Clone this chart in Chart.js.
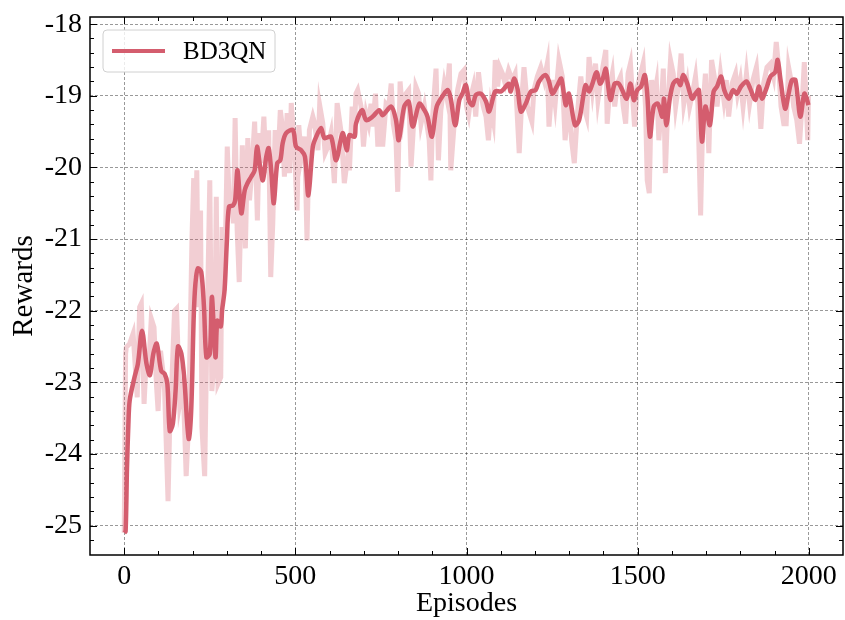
<!DOCTYPE html>
<html>
<head>
<meta charset="utf-8">
<script src="https://cdn.jsdelivr.net/npm/chart.js@4.4.1/dist/chart.umd.min.js"></script>
<style>
  html, body { margin: 0; padding: 0; background: #fff; }
  #box { width: 845px; height: 620px; }
</style>
</head>
<body>
<div id="box"><canvas id="rewardChart" width="845" height="620"></canvas></div>
<script>
// raw episode rewards (light line)
const rawEpisodes = [0, 4, 6, 16, 26, 38, 45, 50, 58, 65, 70, 79, 87, 94, 99, 106, 113, 118, 128, 133, 140, 147, 153, 162, 172, 181, 188, 198, 203, 206, 212, 217, 223, 227, 235, 240, 250, 256, 264, 269, 274, 282, 286, 293, 301, 308, 313, 319, 324, 330, 336, 345, 354, 361, 366, 373, 381, 389, 395, 400, 408, 415, 422, 428, 434, 441, 449, 456, 462, 468, 476, 483, 488, 497, 505, 510, 517, 527, 534, 541, 551, 556, 566, 571, 580, 587, 595, 604, 614, 622, 634, 643, 653,
  658, 666, 673, 677, 682, 692, 699, 707, 714, 721, 726, 734, 741, 747, 755, 765, 773, 780, 786, 794, 799, 806, 814, 823, 831, 838, 845, 852, 860, 867, 877, 884, 891, 896, 901, 911, 918, 925, 935, 942, 950, 954, 964, 974, 984, 993, 1000, 1006, 1013, 1020, 1027, 1035, 1042, 1049, 1057, 1064, 1071, 1078, 1084, 1091, 1097, 1105, 1113, 1123, 1134, 1142, 1154, 1162, 1168, 1178, 1191, 1197, 1207, 1217, 1227, 1236, 1241, 1251, 1259, 1270, 1280, 1288, 1300, 1307, 1315, 1324, 1334, 1343,
  1351, 1358, 1368, 1377, 1384, 1392, 1400, 1407, 1411, 1419, 1426, 1433, 1441, 1450, 1458, 1465, 1472, 1479, 1484, 1491, 1499, 1507, 1516, 1523, 1528, 1534, 1541, 1547, 1555, 1562, 1569, 1575, 1581, 1588, 1596, 1604, 1611, 1620, 1627, 1635, 1645, 1652, 1662, 1669, 1676, 1684, 1691, 1698, 1708, 1716, 1724, 1732, 1742, 1752, 1759, 1766, 1776, 1786, 1792, 1800, 1808, 1818, 1827, 1837, 1847, 1854, 1860, 1868, 1878, 1888, 1897, 1905, 1912, 1919, 1927, 1934, 1941, 1948, 1956, 1965, 1973, 1980, 1987, 1993, 1997, 1999];
const rawRewards = [-25.1, -22.6, -22.51, -22.46, -22.32, -23.21, -21.95, -21.9, -23.3, -22.6, -22.93, -22.11, -22.23, -23.02, -23.4, -22.56, -22.84, -23.12, -24.66, -23.58, -22.88, -22.0, -21.97, -23.3, -23.02, -24.31, -23.58, -20.97, -20.15, -21.53, -20.04, -21.95, -20.6, -23.63, -24.31, -22.79, -20.18, -23.12, -22.65, -20.41, -23.02, -22.93, -20.83, -21.72, -19.71, -20.64, -20.41, -20.78, -19.31, -20.88, -21.6, -19.69, -21.13, -19.59, -20.46, -20.04, -19.36, -20.74, -19.52, -19.94, -19.29, -20.08, -19.48, -21.53, -20.78, -19.48, -19.94, -19.2, -19.43, -20.13, -19.24, -20.08, -19.1, -19.71, -20.6, -19.41, -19.85, -19.57, -21.02, -19.48, -19.29, -19.38, -19.76, -19.13, -19.38, -19.8, -19.71, -19.52, -20.22, -19.1, -19.52, -20.22, -19.85,
  -20.04, -19.15, -19.39, -18.97, -18.92, -19.15, -19.71, -19.25, -19.39, -19.11, -19.43, -18.97, -19.71, -19.2, -19.71, -19.11, -19.15, -18.83, -19.39, -19.62, -20.34, -18.8, -19.29, -18.97, -18.92, -19.99, -19.43, -18.87, -18.97, -19.39, -19.15, -19.39, -19.62, -20.18, -19.29, -18.62, -19.9, -19.2, -18.83, -19.01, -18.55, -20.04, -19.39, -18.92, -18.69, -18.64, -19.15, -19.27, -19.01, -18.87, -19.29, -18.67, -18.97, -19.15, -19.29, -19.62, -19.15, -19.34, -18.5, -18.87, -18.6, -18.69, -18.83, -18.64, -18.78, -18.69, -19.8, -19.01, -18.6, -19.15, -19.36, -18.92, -18.73, -18.6, -18.78, -18.55, -19.43, -18.78, -19.11, -18.5, -18.73, -19.62, -19.06, -19.62, -19.94, -19.25, -18.73, -19.15,
  -19.29, -18.46, -18.92, -18.55, -19.06, -18.78, -18.55, -18.36, -19.39, -18.87, -18.69, -19.15, -18.83, -18.73, -19.15, -19.39, -18.69, -18.55, -18.92, -19.43, -18.87, -18.73, -18.55, -19.15, -20.18, -20.36, -18.78, -19.06, -18.83, -19.62, -19.15, -18.62, -20.08, -19.15, -18.5, -18.69, -19.15, -18.83, -18.41, -19.11, -18.83, -19.15, -18.92, -18.73, -19.11, -20.67, -19.15, -18.69, -19.8, -18.5, -18.73, -19.15, -18.69, -19.06, -18.78, -19.29, -18.83, -18.69, -18.97, -18.78, -19.15, -18.69, -19.11, -18.78, -18.6, -19.01, -19.46, -18.83, -18.6, -18.55, -18.73, -18.25, -18.6, -19.15, -19.39, -19.39, -18.6, -18.78, -19.15, -19.34, -19.67, -19.15, -18.53, -19.15, -19.62, -19.0];

// smoothed rewards (dark line)
const smoothEpisodes = [0, 4, 8, 12, 16, 30, 40, 52, 65, 75, 85, 95, 108, 118, 126, 133, 142, 150, 157, 167, 176, 184, 189, 196, 203, 208, 215, 225, 233, 240, 250, 256, 262, 267, 272, 282, 286, 293, 300, 306, 318, 324, 331, 342, 352, 360, 371, 381, 388, 397, 405, 415, 422, 430, 437, 447, 456, 463, 473, 493, 502, 517, 528, 538, 551, 561, 575, 585, 604, 619, 638, 650, 658,
  673, 677, 695, 707, 726, 745, 755, 780, 794, 802, 818, 831, 843, 862, 877, 886, 899, 913, 932, 945, 954, 967, 979, 988, 998, 1008, 1018, 1027, 1042, 1057, 1066, 1084, 1100, 1110, 1123, 1129, 1139, 1149, 1159, 1173, 1188, 1202, 1212, 1231, 1241, 1251, 1266, 1277, 1290, 1299, 1317, 1329, 1343,
  1348, 1358, 1368, 1380, 1390, 1397, 1407, 1413, 1421, 1433, 1445, 1455, 1468, 1479, 1489, 1499, 1510, 1521, 1528, 1536, 1547, 1559, 1572, 1577, 1584, 1594, 1604, 1616, 1625, 1633, 1645, 1659, 1669, 1679, 1688, 1698, 1711, 1722, 1732, 1744, 1753, 1766, 1779, 1790, 1802, 1818, 1829, 1844, 1854, 1863, 1876, 1888, 1902, 1909, 1917, 1931, 1941, 1951, 1961, 1975, 1987, 1995, 1999];
const smoothRewards = [-25.1, -25.08, -24.2, -23.6, -23.25, -22.93, -22.74, -22.28, -22.74, -22.9, -22.6, -22.46, -22.84, -22.88, -23.02, -23.68, -23.58, -23.12, -22.5, -22.6, -22.98, -23.58, -23.79, -23.35, -22.09, -21.62, -21.41, -21.46, -21.95, -22.65, -22.6, -21.81, -22.28, -22.65, -22.14, -22.22, -21.99, -21.72, -21.02, -20.55, -20.53, -20.46, -20.04, -20.64, -20.32, -20.22, -20.13, -20.04, -19.71, -19.99, -20.18, -19.85, -19.73, -20.08, -20.5, -19.94, -19.9, -19.66, -19.52, -19.48, -19.71, -19.76, -19.85, -20.39, -19.71, -19.57, -19.45, -19.59, -19.57, -19.9, -19.52, -19.76, -19.55,
  -19.57, -19.39, -19.2, -19.34, -19.29, -19.2, -19.27, -19.15, -19.34, -19.62, -19.15, -19.08, -19.43, -19.11, -19.2, -19.29, -19.57, -19.15, -18.99, -18.92, -19.04, -19.41, -19.06, -18.97, -18.85, -19.08, -19.13, -18.99, -18.97, -19.08, -19.22, -18.94, -18.94, -18.9, -18.83, -18.94, -18.76, -18.9, -19.22, -19.11, -18.94, -18.92, -18.8, -18.71, -18.8, -18.97, -18.85, -18.76, -19.13, -18.97, -19.41, -19.34, -18.95,
  -18.85, -18.94, -18.83, -18.67, -18.83, -18.78, -18.62, -18.83, -19.06, -18.83, -18.83, -18.92, -19.04, -18.83, -19.06, -18.92, -18.87, -18.71, -18.97, -19.57, -19.15, -19.11, -19.29, -19.04, -19.41, -19.04, -18.83, -18.78, -18.85, -18.71, -18.83, -19.04, -18.97, -18.92, -19.64, -19.15, -19.41, -18.94, -18.87, -18.73, -18.92, -19.04, -18.92, -18.97, -18.87, -18.8, -18.9, -19.06, -18.87, -19.04, -18.9, -18.73, -18.67, -18.5, -18.76, -19.18, -18.97, -18.78, -18.78, -19.29, -18.97, -19.06, -19.13];

const xMajor = [0, 500, 1000, 1500, 2000];
const yMajor = [-25, -24, -23, -22, -21, -20, -19, -18];
const seriesName = 'BD3QN';

const lineColor = 'rgb(212, 93, 110)';
const serif = '"Liberation Serif", "Times New Roman", serif';

function toPoints(xs, ys) {
    return xs.map((x, i) => ({ x: x, y: ys[i] }));
}

// рамка, внутренние деления и легенда
const framePlugin = {
    id: 'frame',
    afterDraw(chart) {
        const c = chart.ctx;
        const a = chart.chartArea;
        const sx = chart.scales.x, sy = chart.scales.y;
        c.save();
        c.strokeStyle = '#000';
        c.lineWidth = 1;
        c.beginPath();
        for (let v = -100; v <= 2100; v += 100) {
            const px = Math.round(sx.getPixelForValue(v)) + 0.5;
            if (px < a.left + 1 || px > a.right - 1) continue;
            const len = v % 500 === 0 ? 7 : 4;
            c.moveTo(px, a.bottom); c.lineTo(px, a.bottom - len);
            c.moveTo(px, a.top); c.lineTo(px, a.top + len);
        }
        for (let k = -128; k <= -89; k++) {
            const v = k / 5;
            const py = Math.round(sy.getPixelForValue(v)) + 0.5;
            if (py < a.top + 1 || py > a.bottom - 1) continue;
            const len = k % 5 === 0 ? 7 : 4;
            c.moveTo(a.left, py); c.lineTo(a.left + len, py);
            c.moveTo(a.right, py); c.lineTo(a.right - len, py);
        }
        c.stroke();
        c.lineWidth = 1.5;
        c.strokeRect(a.left, a.top, a.right - a.left, a.bottom - a.top);

        // legend box
        const lx = a.left + 13, ly = a.top + 13, lw = 172, lh = 42;
        c.fillStyle = 'rgba(255,255,255,0.8)';
        c.strokeStyle = '#d0d0d0';
        c.lineWidth = 1;
        c.beginPath();
        c.roundRect(lx, ly, lw, lh, 4);
        c.fill();
        c.stroke();
        c.strokeStyle = lineColor;
        c.lineWidth = 4;
        c.beginPath();
        c.moveTo(lx + 9, ly + 21);
        c.lineTo(lx + 62, ly + 21);
        c.stroke();
        c.fillStyle = '#000';
        c.font = '25px ' + serif;
        c.textAlign = 'left';
        c.textBaseline = 'middle';
        c.fillText(seriesName, lx + 80, ly + 22);
        c.restore();
    }
};

function zeroPadding(s) {
    s.paddingTop = 0; s.paddingBottom = 0;
    s.paddingLeft = 0; s.paddingRight = 0;
}

const ctx = document.getElementById('rewardChart').getContext('2d');
const chart = new Chart(ctx, {
    type: 'line',
    data: {
        datasets: [{
            label: seriesName,
            data: toPoints(smoothEpisodes, smoothRewards),
            borderColor: lineColor,
            borderWidth: 4.5,
            pointRadius: 0,
            tension: 0.3,
            order: 1
        }, {
            label: seriesName + ' raw',
            data: toPoints(rawEpisodes, rawRewards),
            borderColor: 'rgba(212, 93, 110, 0.3)',
            borderWidth: 5,
            pointRadius: 0,
            order: 2
        }]
    },
    options: {
        responsive: false,
        animation: false,
        devicePixelRatio: 1,
        layout: { padding: { top: 17, right: 2, left: 0, bottom: 0 } },
        plugins: {
            legend: { display: false },
            tooltip: { enabled: false }
        },
        scales: {
            x: {
                type: 'linear',
                min: -100,
                max: 2100,
                afterFit: s => { s.height = 65; zeroPadding(s); },
                afterBuildTicks: s => { s.ticks = xMajor.map(v => ({ value: v })); },
                grid: { color: 'rgba(0,0,0,0.5)', lineWidth: 0.8, drawTicks: false },
                border: { display: false, dash: [3, 2] },
                ticks: {
                    color: '#000',
                    padding: 5,
                    maxRotation: 0,
                    callback: v => String(v),
                    font: { family: serif, size: 28 }
                },
                title: {
                    display: true,
                    text: 'Episodes',
                    color: '#000',
                    padding: { top: -3, bottom: 0 },
                    font: { family: serif, size: 28 }
                }
            },
            y: {
                type: 'linear',
                min: -25.41,
                max: -17.9,
                afterFit: s => { s.width = 90; zeroPadding(s); },
                afterBuildTicks: s => { s.ticks = yMajor.map(v => ({ value: v })); },
                grid: { color: 'rgba(0,0,0,0.5)', lineWidth: 0.8, drawTicks: false },
                border: { display: false, dash: [3, 2] },
                ticks: {
                    color: '#000',
                    padding: 8,
                    callback: v => String(v),
                    font: { family: serif, size: 28 }
                },
                title: {
                    display: true,
                    text: 'Rewards',
                    color: '#000',
                    padding: { top: 7, bottom: 0 },
                    font: { family: serif, size: 29 }
                }
            }
        }
    },
    plugins: [framePlugin]
});
</script>
</body>
</html>
